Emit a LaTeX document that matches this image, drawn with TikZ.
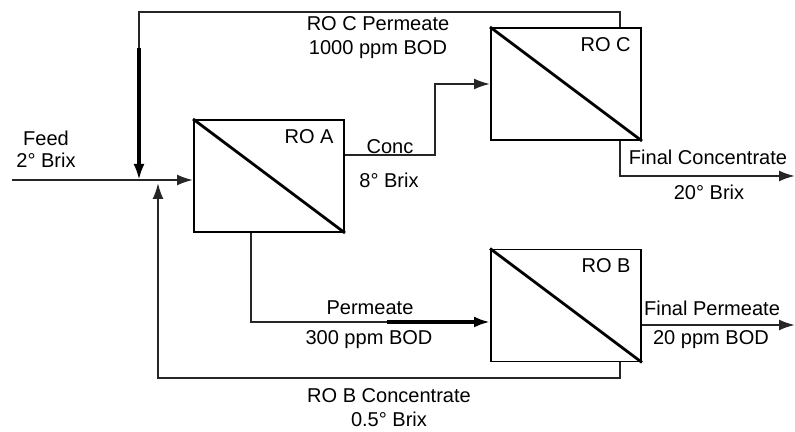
\documentclass[tikz,border=0pt]{standalone}
\usepackage{fontspec}
\setmainfont{Liberation Sans}
\usetikzlibrary{positioning,arrows.meta}

\begin{document}
\begin{tikzpicture}[
  membrane/.style={draw,line width=1.1pt,minimum width=3cm,minimum height=2.24cm,inner sep=0pt},
  flow/.style={line width=1.2pt,draw=black!85},
  arr/.style={flow,-{Latex[length=3.2mm,width=2.2mm]}},
  heavy/.style={arr,line width=1.8pt,draw=black},
  lbl/.style={font=\fontsize{11.4}{14}\selectfont,align=center,inner sep=0pt},
  tag/.style={lbl,anchor=north east}]
\useasboundingbox (0,0) rectangle (15.9,8.64);
% membrane units
\node[membrane] (roA) at (5.38,5.12) {};
\node[membrane] (roC) at (11.32,6.96) {};
\node[membrane] (roB) at (11.32,2.53) {};
\foreach \m in {roA,roB,roC} \draw[line width=1.6pt] (\m.north west)--(\m.south east);
\node[tag] (tagA) at ([shift={(-0.22,-0.2)}]roA.north east) {RO A};
\node[tag] (tagC) at ([shift={(-0.22,-0.2)}]roC.north east) {RO C};
\node[tag] (tagB) at ([shift={(-0.22,-0.2)}]roB.north east) {RO B};
% junctions
\coordinate (feed) at (0.24,5.04);
\coordinate (topL) at (2.78,8.40);
\coordinate (dropC) at (2.78,7.68);
\coordinate (mixC) at (2.78,5.04);
\coordinate (botL) at (3.16,1.08);
\coordinate (mixB) at (3.16,4.98);
\coordinate (conc) at (8.70,5.54);
\coordinate (perm) at (5.02,2.20);
\coordinate (permT) at (7.74,2.20);
\coordinate (outC) at (15.9,5.12);
\coordinate (outB) at (15.9,2.14);
\coordinate (cOut) at ([xshift=-0.44cm]roC.north east);
\coordinate (cRet) at ([xshift=-0.44cm]roC.south east);
\coordinate (bRet) at ([xshift=-0.44cm]roB.south east);
% streams
\draw[arr] (feed) -- (roA.west |- feed);
\draw[flow] (cOut) |- (topL) -- (dropC);
\draw[heavy] (dropC) -- (mixC);
\draw[arr] (bRet) |- (botL) -- (mixB);
\draw[arr] (roA.east |- conc) -- (conc) |- (roC.west);
\draw[flow] (roA.south -| perm) |- (permT);
\draw[heavy] (permT) -- (roB.west |- permT);
\draw[arr] (cRet) |- (outC);
\draw[arr] (roB.east |- outB) -- (outB);
% stream labels
\node[lbl] (feedlbl) at (0.92,5.66) {Feed\\[-1.5pt]2° Brix};
\node[lbl] (cperm) at (7.56,7.89) {RO C Permeate\\1000 ppm BOD};
\node[lbl] (conclbl) at (7.80,5.70) {Conc};
\node[lbl] (concbrix) at (7.78,5.04) {8° Brix};
\node[lbl] (fconc) at (14.16,5.50) {Final Concentrate};
\node[lbl] (fconcbrix) at (14.18,4.80) {20° Brix};
\node[lbl] (permlbl) at (7.40,2.48) {Permeate};
\node[lbl] (permbod) at (7.38,1.84) {300 ppm BOD};
\node[lbl] (fperm) at (14.24,2.48) {Final Permeate};
\node[lbl] (fpermbod) at (14.22,1.84) {20 ppm BOD};
\node[lbl] (bconc) at (7.78,0.49) {RO B Concentrate\\0.5° Brix};
\end{tikzpicture}
\end{document}
